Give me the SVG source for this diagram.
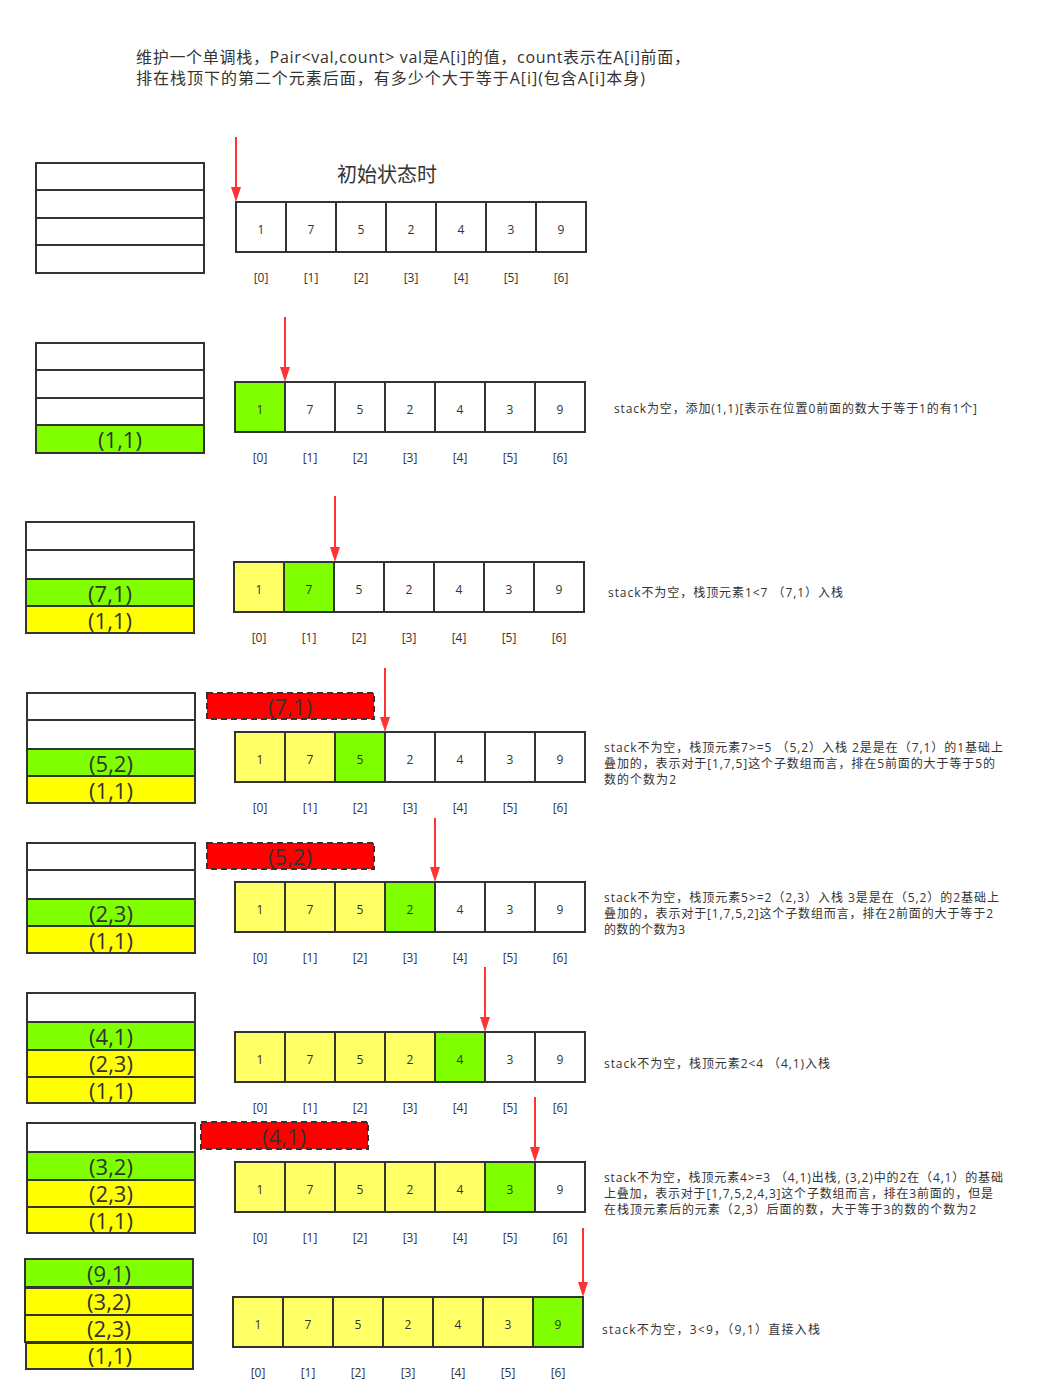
<svg xmlns="http://www.w3.org/2000/svg" width="1048" height="1394" viewBox="0 0 1048 1394">
<style>
text{font-family:"Open Sans","Noto Sans CJK SC",sans-serif;fill:#333}
.c{stroke:#333;stroke-width:2}
.w{fill:#fff}.g{fill:#80FF00}.y{fill:#FFFF66}.ys{fill:#FFFF00}
.num{font-size:12px;text-anchor:middle;dominant-baseline:central}
.idx{font-size:12px;text-anchor:middle;dominant-baseline:central}
.st{font-size:22px;text-anchor:middle}
.note{font-size:12px}
.pop{fill:#FF0000;stroke:#333;stroke-width:2;stroke-dasharray:6 4}
.arr{stroke:#FF3333;stroke-width:2;fill:none}
.ah{fill:#FF3333}
</style>
<text x="136" y="63" font-size="16" textLength="554" lengthAdjust="spacing">维护一个单调栈，Pair&lt;val,count&gt; val是A[i]的值，count表示在A[i]前面，</text>
<text x="136" y="84" font-size="16" textLength="509" lengthAdjust="spacing">排在栈顶下的第二个元素后面，有多少个大于等于A[i](包含A[i]本身)</text>
<text x="387" y="182" font-size="20" text-anchor="middle">初始状态时</text>

<g id="connectors">
<line class="arr" x1="236" y1="137" x2="236" y2="188"/><path class="ah" d="M231,187 L241,187 L236,202 Z"/>
<line class="arr" x1="285" y1="317" x2="285" y2="368"/><path class="ah" d="M280,367 L290,367 L285,382 Z"/>
<line class="arr" x1="335" y1="496" x2="335" y2="548"/><path class="ah" d="M330,547 L340,547 L335,562 Z"/>
<line class="arr" x1="385" y1="668" x2="385" y2="718"/><path class="ah" d="M380,717 L390,717 L385,732 Z"/>
<line class="arr" x1="435" y1="818" x2="435" y2="868"/><path class="ah" d="M430,867 L440,867 L435,882 Z"/>
<line class="arr" x1="485" y1="967" x2="485" y2="1018"/><path class="ah" d="M480,1017 L490,1017 L485,1032 Z"/>
<line class="arr" x1="535" y1="1097" x2="535" y2="1148"/><path class="ah" d="M530,1147 L540,1147 L535,1162 Z"/>
<line class="arr" x1="583" y1="1228" x2="583" y2="1283"/><path class="ah" d="M578,1282 L588,1282 L583,1297 Z"/>
</g>

<!-- Row 1 -->
<g id="stack1">
<rect class="c w" x="36" y="163" width="168" height="27"/>
<rect class="c w" x="36" y="190" width="168" height="28"/>
<rect class="c w" x="36" y="218" width="168" height="27"/>
<rect class="c w" x="36" y="245" width="168" height="28"/>
</g>
<g id="array1">
<rect class="c w" x="236" y="202" width="50" height="50"/><rect class="c w" x="286" y="202" width="50" height="50"/><rect class="c w" x="336" y="202" width="50" height="50"/><rect class="c w" x="386" y="202" width="50" height="50"/><rect class="c w" x="436" y="202" width="50" height="50"/><rect class="c w" x="486" y="202" width="50" height="50"/><rect class="c w" x="536" y="202" width="50" height="50"/>
<text class="num" x="261" y="229">1</text><text class="num" x="311" y="229">7</text><text class="num" x="361" y="229">5</text><text class="num" x="411" y="229">2</text><text class="num" x="461" y="229">4</text><text class="num" x="511" y="229">3</text><text class="num" x="561" y="229">9</text>
<text class="idx" x="261" y="277">[0]</text><text class="idx" x="311" y="277">[1]</text><text class="idx" x="361" y="277">[2]</text><text class="idx" x="411" y="277">[3]</text><text class="idx" x="461" y="277">[4]</text><text class="idx" x="511" y="277">[5]</text><text class="idx" x="561" y="277">[6]</text>
</g>

<!-- Row 2 -->
<g id="stack2">
<rect class="c w" x="36" y="343" width="168" height="27"/>
<rect class="c w" x="36" y="370" width="168" height="28"/>
<rect class="c w" x="36" y="398" width="168" height="27"/>
<rect class="c g" x="36" y="425" width="168" height="28"/>
<text class="st" x="120" y="448">(1,1)</text>
</g>
<g id="array2">
<rect class="c g" x="235" y="382" width="50" height="50"/><rect class="c w" x="285" y="382" width="50" height="50"/><rect class="c w" x="335" y="382" width="50" height="50"/><rect class="c w" x="385" y="382" width="50" height="50"/><rect class="c w" x="435" y="382" width="50" height="50"/><rect class="c w" x="485" y="382" width="50" height="50"/><rect class="c w" x="535" y="382" width="50" height="50"/>
<text class="num" x="260" y="409">1</text><text class="num" x="310" y="409">7</text><text class="num" x="360" y="409">5</text><text class="num" x="410" y="409">2</text><text class="num" x="460" y="409">4</text><text class="num" x="510" y="409">3</text><text class="num" x="560" y="409">9</text>
<text class="idx" x="260" y="457">[0]</text><text class="idx" x="310" y="457">[1]</text><text class="idx" x="360" y="457">[2]</text><text class="idx" x="410" y="457">[3]</text><text class="idx" x="460" y="457">[4]</text><text class="idx" x="510" y="457">[5]</text><text class="idx" x="560" y="457">[6]</text>
</g>
<text class="note" x="614" y="413" textLength="363" lengthAdjust="spacing">stack为空，添加(1,1)[表示在位置0前面的数大于等于1的有1个]</text>

<!-- Row 3 -->
<g id="stack3">
<rect class="c w" x="26" y="522" width="168" height="28"/>
<rect class="c w" x="26" y="550" width="168" height="29"/>
<rect class="c g" x="26" y="579" width="168" height="27"/>
<rect class="c ys" x="26" y="606" width="168" height="27"/>
<text class="st" x="110" y="602">(7,1)</text>
<text class="st" x="110" y="629">(1,1)</text>
</g>
<g id="array3">
<rect class="c y" x="234" y="562" width="50" height="50"/><rect class="c g" x="284" y="562" width="50" height="50"/><rect class="c w" x="334" y="562" width="50" height="50"/><rect class="c w" x="384" y="562" width="50" height="50"/><rect class="c w" x="434" y="562" width="50" height="50"/><rect class="c w" x="484" y="562" width="50" height="50"/><rect class="c w" x="534" y="562" width="50" height="50"/>
<text class="num" x="259" y="589">1</text><text class="num" x="309" y="589">7</text><text class="num" x="359" y="589">5</text><text class="num" x="409" y="589">2</text><text class="num" x="459" y="589">4</text><text class="num" x="509" y="589">3</text><text class="num" x="559" y="589">9</text>
<text class="idx" x="259" y="637">[0]</text><text class="idx" x="309" y="637">[1]</text><text class="idx" x="359" y="637">[2]</text><text class="idx" x="409" y="637">[3]</text><text class="idx" x="459" y="637">[4]</text><text class="idx" x="509" y="637">[5]</text><text class="idx" x="559" y="637">[6]</text>
</g>
<text class="note" x="608" y="597" textLength="235" lengthAdjust="spacing">stack不为空，栈顶元素1&lt;7 （7,1）入栈</text>

<!-- Row 4 -->
<g id="stack4">
<rect class="c w" x="27" y="693" width="168" height="27"/>
<rect class="c w" x="27" y="720" width="168" height="29"/>
<rect class="c g" x="27" y="749" width="168" height="27"/>
<rect class="c ys" x="27" y="776" width="168" height="27"/>
<text class="st" x="111" y="772">(5,2)</text>
<text class="st" x="111" y="799">(1,1)</text>
</g>
<g id="pop4">
<rect class="pop" x="207" y="693" width="167" height="26"/>
<text class="st" x="290" y="715">(7,1)</text>
</g>
<g id="array4">
<rect class="c y" x="235" y="732" width="50" height="50"/><rect class="c y" x="285" y="732" width="50" height="50"/><rect class="c g" x="335" y="732" width="50" height="50"/><rect class="c w" x="385" y="732" width="50" height="50"/><rect class="c w" x="435" y="732" width="50" height="50"/><rect class="c w" x="485" y="732" width="50" height="50"/><rect class="c w" x="535" y="732" width="50" height="50"/>
<text class="num" x="260" y="759">1</text><text class="num" x="310" y="759">7</text><text class="num" x="360" y="759">5</text><text class="num" x="410" y="759">2</text><text class="num" x="460" y="759">4</text><text class="num" x="510" y="759">3</text><text class="num" x="560" y="759">9</text>
<text class="idx" x="260" y="807">[0]</text><text class="idx" x="310" y="807">[1]</text><text class="idx" x="360" y="807">[2]</text><text class="idx" x="410" y="807">[3]</text><text class="idx" x="460" y="807">[4]</text><text class="idx" x="510" y="807">[5]</text><text class="idx" x="560" y="807">[6]</text>
</g>
<text class="note" x="604" y="752" textLength="399" lengthAdjust="spacing">stack不为空，栈顶元素7&gt;=5 （5,2）入栈 2是是在（7,1）的1基础上</text>
<text class="note" x="604" y="768" textLength="391" lengthAdjust="spacing">叠加的，表示对于[1,7,5]这个子数组而言，排在5前面的大于等于5的</text>
<text class="note" x="604" y="784" textLength="72" lengthAdjust="spacing">数的个数为2</text>

<!-- Row 5 -->
<g id="stack5">
<rect class="c w" x="27" y="843" width="168" height="27"/>
<rect class="c w" x="27" y="870" width="168" height="29"/>
<rect class="c g" x="27" y="899" width="168" height="27"/>
<rect class="c ys" x="27" y="926" width="168" height="27"/>
<text class="st" x="111" y="922">(2,3)</text>
<text class="st" x="111" y="949">(1,1)</text>
</g>
<g id="pop5">
<rect class="pop" x="207" y="843" width="167" height="26"/>
<text class="st" x="290" y="865">(5,2)</text>
</g>
<g id="array5">
<rect class="c y" x="235" y="882" width="50" height="50"/><rect class="c y" x="285" y="882" width="50" height="50"/><rect class="c y" x="335" y="882" width="50" height="50"/><rect class="c g" x="385" y="882" width="50" height="50"/><rect class="c w" x="435" y="882" width="50" height="50"/><rect class="c w" x="485" y="882" width="50" height="50"/><rect class="c w" x="535" y="882" width="50" height="50"/>
<text class="num" x="260" y="909">1</text><text class="num" x="310" y="909">7</text><text class="num" x="360" y="909">5</text><text class="num" x="410" y="909">2</text><text class="num" x="460" y="909">4</text><text class="num" x="510" y="909">3</text><text class="num" x="560" y="909">9</text>
<text class="idx" x="260" y="957">[0]</text><text class="idx" x="310" y="957">[1]</text><text class="idx" x="360" y="957">[2]</text><text class="idx" x="410" y="957">[3]</text><text class="idx" x="460" y="957">[4]</text><text class="idx" x="510" y="957">[5]</text><text class="idx" x="560" y="957">[6]</text>
</g>
<text class="note" x="604" y="902" textLength="395" lengthAdjust="spacing">stack不为空，栈顶元素5&gt;=2（2,3）入栈 3是是在（5,2）的2基础上</text>
<text class="note" x="604" y="918" textLength="389" lengthAdjust="spacing">叠加的，表示对于[1,7,5,2]这个子数组而言，排在2前面的大于等于2</text>
<text class="note" x="604" y="934" textLength="81" lengthAdjust="spacing">的数的个数为3</text>

<!-- Row 6 -->
<g id="stack6">
<rect class="c w" x="27" y="993" width="168" height="29"/>
<rect class="c g" x="27" y="1022" width="168" height="28"/>
<rect class="c ys" x="27" y="1050" width="168" height="27"/>
<rect class="c ys" x="27" y="1077" width="168" height="26"/>
<text class="st" x="111" y="1045">(4,1)</text>
<text class="st" x="111" y="1072">(2,3)</text>
<text class="st" x="111" y="1099">(1,1)</text>
</g>
<g id="array6">
<rect class="c y" x="235" y="1032" width="50" height="50"/><rect class="c y" x="285" y="1032" width="50" height="50"/><rect class="c y" x="335" y="1032" width="50" height="50"/><rect class="c y" x="385" y="1032" width="50" height="50"/><rect class="c g" x="435" y="1032" width="50" height="50"/><rect class="c w" x="485" y="1032" width="50" height="50"/><rect class="c w" x="535" y="1032" width="50" height="50"/>
<text class="num" x="260" y="1059">1</text><text class="num" x="310" y="1059">7</text><text class="num" x="360" y="1059">5</text><text class="num" x="410" y="1059">2</text><text class="num" x="460" y="1059">4</text><text class="num" x="510" y="1059">3</text><text class="num" x="560" y="1059">9</text>
<text class="idx" x="260" y="1107">[0]</text><text class="idx" x="310" y="1107">[1]</text><text class="idx" x="360" y="1107">[2]</text><text class="idx" x="410" y="1107">[3]</text><text class="idx" x="460" y="1107">[4]</text><text class="idx" x="510" y="1107">[5]</text><text class="idx" x="560" y="1107">[6]</text>
</g>
<text class="note" x="604" y="1068" textLength="226" lengthAdjust="spacing">stack不为空，栈顶元素2&lt;4 （4,1)入栈</text>

<!-- Row 7 -->
<g id="stack7">
<rect class="c w" x="27" y="1123" width="168" height="29"/>
<rect class="c g" x="27" y="1152" width="168" height="28"/>
<rect class="c ys" x="27" y="1180" width="168" height="27"/>
<rect class="c ys" x="27" y="1207" width="168" height="26"/>
<text class="st" x="111" y="1175">(3,2)</text>
<text class="st" x="111" y="1202">(2,3)</text>
<text class="st" x="111" y="1229">(1,1)</text>
</g>
<g id="pop7">
<rect class="pop" x="201" y="1122" width="167" height="27"/>
<text class="st" x="284" y="1145">(4,1)</text>
</g>
<g id="array7">
<rect class="c y" x="235" y="1162" width="50" height="50"/><rect class="c y" x="285" y="1162" width="50" height="50"/><rect class="c y" x="335" y="1162" width="50" height="50"/><rect class="c y" x="385" y="1162" width="50" height="50"/><rect class="c y" x="435" y="1162" width="50" height="50"/><rect class="c g" x="485" y="1162" width="50" height="50"/><rect class="c w" x="535" y="1162" width="50" height="50"/>
<text class="num" x="260" y="1189">1</text><text class="num" x="310" y="1189">7</text><text class="num" x="360" y="1189">5</text><text class="num" x="410" y="1189">2</text><text class="num" x="460" y="1189">4</text><text class="num" x="510" y="1189">3</text><text class="num" x="560" y="1189">9</text>
<text class="idx" x="260" y="1237">[0]</text><text class="idx" x="310" y="1237">[1]</text><text class="idx" x="360" y="1237">[2]</text><text class="idx" x="410" y="1237">[3]</text><text class="idx" x="460" y="1237">[4]</text><text class="idx" x="510" y="1237">[5]</text><text class="idx" x="560" y="1237">[6]</text>
</g>
<text class="note" x="604" y="1182" textLength="399" lengthAdjust="spacing">stack不为空，栈顶元素4&gt;=3 （4,1)出栈, (3,2)中的2在（4,1）的基础</text>
<text class="note" x="604" y="1198" textLength="389" lengthAdjust="spacing">上叠加，表示对于[1,7,5,2,4,3]这个子数组而言，排在3前面的，但是</text>
<text class="note" x="604" y="1214" textLength="372" lengthAdjust="spacing">在栈顶元素后的元素（2,3）后面的数，大于等于3的数的个数为2</text>

<!-- Row 8 -->
<g id="stack8">
<rect class="c g" x="25" y="1259" width="168" height="28"/>
<rect class="c ys" x="25" y="1288" width="168" height="27"/>
<rect class="c ys" x="25" y="1315" width="168" height="27"/>
<rect class="c ys" x="26" y="1343" width="167" height="26"/>
<text class="st" x="109" y="1282">(9,1)</text>
<text class="st" x="109" y="1310">(3,2)</text>
<text class="st" x="109" y="1337">(2,3)</text>
<text class="st" x="110" y="1364">(1,1)</text>
</g>
<g id="array8">
<rect class="c y" x="233" y="1297" width="50" height="50"/><rect class="c y" x="283" y="1297" width="50" height="50"/><rect class="c y" x="333" y="1297" width="50" height="50"/><rect class="c y" x="383" y="1297" width="50" height="50"/><rect class="c y" x="433" y="1297" width="50" height="50"/><rect class="c y" x="483" y="1297" width="50" height="50"/><rect class="c g" x="533" y="1297" width="50" height="50"/>
<text class="num" x="258" y="1324">1</text><text class="num" x="308" y="1324">7</text><text class="num" x="358" y="1324">5</text><text class="num" x="408" y="1324">2</text><text class="num" x="458" y="1324">4</text><text class="num" x="508" y="1324">3</text><text class="num" x="558" y="1324">9</text>
<text class="idx" x="258" y="1372">[0]</text><text class="idx" x="308" y="1372">[1]</text><text class="idx" x="358" y="1372">[2]</text><text class="idx" x="408" y="1372">[3]</text><text class="idx" x="458" y="1372">[4]</text><text class="idx" x="508" y="1372">[5]</text><text class="idx" x="558" y="1372">[6]</text>
</g>
<text class="note" x="602" y="1334" textLength="218" lengthAdjust="spacing">stack不为空，3&lt;9，（9,1）直接入栈</text>
</svg>
